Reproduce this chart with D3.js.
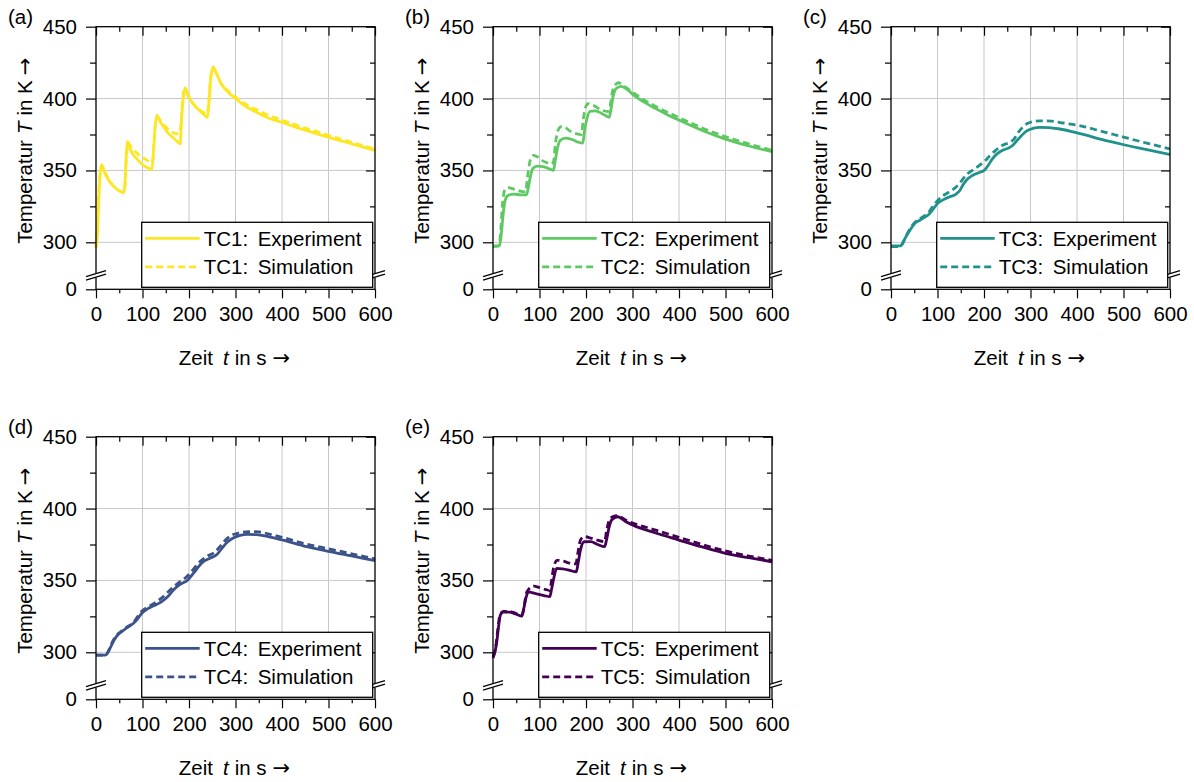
<!DOCTYPE html>
<html>
<head>
<meta charset="utf-8">
<script src="https://cdn.jsdelivr.net/npm/d3@7"></script>
<style>
  body { margin: 0; background: #fff; }
  svg { display: block; font-family: "Liberation Sans", Arial, sans-serif; }
</style>
</head>
<body>
<svg id="chart" width="1194" height="782"></svg>
<script>
// axis ticks
const xTicks = [0, 100, 200, 300, 400, 500, 600];
const xMinor = [50, 150, 250, 350, 450, 550];
const yTicks = [0, 300, 350, 400, 450];
const yMinor = [325, 375, 425];
const yGrid = [300, 350, 400];
const yBreakValue = 267.3;   // axis is broken, bottom of the plot is labelled 0
const yBreakMark = 277;

// TC1 (t in s, T in K)
const tc1Exp = [[0,296],[3,305],[6,330],[9,348],[12,354],[16,351],[22,346],[30,342],[38,339],[45,337],[52,335.5],[60,334.5],[62,340],[65,360],[68,370],[72,366],[80,361],[88,358],[100,354],[110,352],[120,350.5],[123,360],[127,380],[131,388.5],[136,385],[145,380.5],[155,376],[165,373],[175,370],[181,368.5],[184,385],[188,402],[192,407.5],[197,403],[205,398],[215,394],[225,391],[235,388],[240,387],[243,398],[247,415],[252,422],[258,418],[270,410],[285,404],[300,400],[320,395],[345,390.5],[370,386.5],[400,383.5],[430,380],[455,377.5],[500,373],[550,368.5],[600,364]];
const tc1Sim = [[0,297],[3,312],[6,336],[10,350],[13,353],[18,350],[25,345],[35,340],[45,337],[55,335],[61,335],[64,350],[67,366],[70,369],[76,366],[85,363],[95,360],[105,358],[115,356],[121,355.5],[124,365],[128,383],[132,387],[138,385],[148,381],[158,378],[168,376],[178,375.5],[182,380],[186,398],[190,406],[196,403],[205,398.5],[215,394],[228,391],[238,389],[242,395],[246,412],[250,420],[256,419],[268,411],[285,405],[300,401],[325,395.5],[350,391.5],[375,388],[400,385],[450,379.5],[500,374.5],[550,369.5],[600,365]];

// TC2
const tc2Exp = [[0,297.5],[14,297.5],[18,306],[22,320],[26,329],[32,332.5],[45,333.5],[60,333],[72,333],[76,338],[80,345],[86,351.5],[95,353],[110,352.5],[122,351],[130,350],[134,357],[139,366],[145,371],[155,372.5],[170,371.5],[185,369.5],[193,369],[197,378],[202,386],[208,391],[220,391.5],[235,389.5],[250,387],[254,393],[258,401],[265,407],[275,408.5],[290,406],[300,403],[325,397.5],[350,393],[375,388.8],[400,385],[450,377.8],[500,371.8],[550,367],[600,363]];
const tc2Sim = [[0,297],[12,297.5],[16,305],[20,325],[25,336],[32,338],[45,337],[60,335.5],[70,335],[74,345],[80,357],[87,360.5],[95,359.5],[105,357],[115,355.5],[125,354.5],[130,356],[134,368],[140,378],[147,380.5],[155,380],[165,377.5],[180,375.5],[190,375],[194,385],[199,394],[205,396.5],[215,395.5],[230,392.5],[248,391],[252,395],[257,405],[264,410],[270,411],[280,409],[300,404.5],[325,399],[350,394.5],[375,390.5],[400,386.8],[450,379.5],[500,373.5],[550,368.5],[600,364]];

// TC3
const tc3Exp = [[0,297.5],[20,297.5],[25,299],[30,302.5],[37,306.5],[45,310.5],[52,313.5],[60,315],[70,317],[80,319],[87,321.5],[95,325],[102,327.5],[112,329.5],[125,331.5],[140,333.5],[148,336],[155,340],[163,343.5],[175,346.5],[190,348.5],[202,350.5],[210,354],[218,358],[228,361.5],[240,364],[255,366],[262,367.5],[270,370.5],[280,374],[292,377.5],[305,379.2],[320,380],[340,379.8],[360,379],[392,376.8],[420,374.5],[450,371.8],[475,369.8],[503,367.7],[550,364.5],[600,361]];
const tc3Sim = [[0,297],[20,297],[25,299.5],[32,304],[40,309],[50,313.5],[60,316],[70,318],[80,320.5],[90,325],[100,329],[110,332],[125,335],[140,338.5],[150,342],[162,347],[175,350],[190,353.5],[200,356],[212,360],[225,364],[240,367.5],[255,369.5],[265,372],[275,377],[288,381.5],[300,383.5],[320,384.5],[345,384.3],[370,383],[400,381.5],[450,377.5],[500,373.2],[550,369],[600,365]];

// TC4
const tc4Exp = [[0,298],[20,298],[26,300],[32,304],[40,309],[48,312.5],[56,314.5],[66,317],[80,320],[90,323.5],[98,327],[110,330],[125,332.5],[142,335.5],[155,339],[167,343.5],[180,347],[198,350.5],[212,356],[227,362],[245,365.5],[260,368],[270,372],[282,376.5],[295,379.5],[310,381.3],[325,382],[345,381.8],[370,380.5],[400,378.2],[453,373.5],[500,370.2],[550,367],[600,363.8]];
const tc4Sim = [[0,298],[20,298],[26,300.5],[32,305],[40,310],[48,313],[56,315],[66,317.5],[80,320.5],[90,325],[100,329],[112,331.5],[125,334],[140,337.5],[155,342],[168,346],[180,349],[195,352.5],[210,358],[225,363.5],[240,367],[255,369.5],[265,373],[278,378],[292,381.5],[310,383.2],[330,384],[350,383.8],[375,382],[400,380],[450,375.5],[500,372],[550,368.5],[600,365]];

// TC5
const tc5Exp = [[0,296],[4,300],[8,307],[12,318],[16,326],[22,328],[35,328],[50,326.5],[62,325.2],[66,330],[71,338],[76,342],[90,341],[110,339.5],[122,338.7],[126,344],[131,352],[137,358.4],[150,358],[165,357],[179,356],[183,362],[188,371],[196,376.9],[210,377],[225,375],[240,373.5],[244,378],[249,386],[255,392],[268,394.3],[285,391],[300,388.6],[350,383],[400,378.1],[450,373.3],[500,368.9],[550,365.8],[600,363]];
const tc5Sim = [[0,297],[5,302],[10,315],[15,326],[22,328.5],[35,328.5],[50,327],[62,326],[66,330],[71,340],[77,344],[88,346],[100,345],[112,343.8],[122,343],[126,350],[131,360],[138,364],[150,363.5],[165,362],[178,361.5],[183,370],[188,378],[196,380.5],[210,379.5],[225,378],[240,377],[244,384],[250,392],[258,394.5],[268,395],[285,392],[300,390],[350,385],[400,380],[450,375],[500,370.5],[550,367],[600,364]];

const sensorNames = ['TC1', 'TC2', 'TC3', 'TC4', 'TC5'];
const panelTags = ['(a)', '(b)', '(c)', '(d)', '(e)'];
const expSeries = [tc1Exp, tc2Exp, tc3Exp, tc4Exp, tc5Exp];
const simSeries = [tc1Sim, tc2Sim, tc3Sim, tc4Sim, tc5Sim];

// viridis colours
const colors = ['#fde725', '#5ec962', '#21918c', '#3b528b', '#440154'];

// layout
const W = 279, H = 262.6;
const origins = [[96, 26.7], [493, 26.7], [891, 26.7], [96, 436.7], [493, 436.7]];
const fontSize = 20.5;
const lineW = 2.8;
const dash = '7,4';

const svg = d3.select('#chart');

sensorNames.forEach((name, i) => {
    const [ox, oy] = origins[i];
    const g = svg.append('g').attr('transform', `translate(${ox},${oy})`);

    const x = d3.scaleLinear().domain([0, 600]).range([0, W]);
    // piecewise: everything below the break collapses onto the bottom line
    const y = d3.scaleLinear().domain([0, yBreakValue, 450]).range([H, H, 0]);

    // gridlines
    g.append('g').selectAll('line')
        .data(xTicks.slice(1, -1))
        .enter().append('line')
        .attr('x1', d => x(d)).attr('x2', d => x(d))
        .attr('y1', 0).attr('y2', H)
        .attr('stroke', '#c8c8c8').attr('stroke-width', 1);
    g.append('g').selectAll('line')
        .data(yGrid)
        .enter().append('line')
        .attr('x1', 0).attr('x2', W)
        .attr('y1', d => y(d)).attr('y2', d => y(d))
        .attr('stroke', '#c8c8c8').attr('stroke-width', 1);

    // curves
    const line = d3.line()
        .x(d => x(d[0]))
        .y(d => y(d[1]))
        .curve(d3.curveMonotoneX);

    g.append('path')
        .datum(simSeries[i])
        .attr('d', line)
        .attr('fill', 'none')
        .attr('stroke', colors[i])
        .attr('stroke-width', lineW)
        .attr('stroke-dasharray', dash);

    g.append('path')
        .datum(expSeries[i])
        .attr('d', line)
        .attr('fill', 'none')
        .attr('stroke', colors[i])
        .attr('stroke-width', lineW);

    // axes
    const styleAxis = sel => {
        sel.select('.domain').remove();
        sel.selectAll('line').attr('stroke', '#000').attr('stroke-width', 1.2);
        sel.selectAll('text')
            .attr('font-size', fontSize)
            .attr('font-family', '"Liberation Sans", Arial, sans-serif')
            .attr('fill', '#000');
    };

    g.append('g').attr('transform', `translate(0,${H})`)
        .call(d3.axisBottom(x).tickValues(xTicks).tickSize(9).tickPadding(8))
        .call(styleAxis);
    g.append('g').attr('transform', `translate(0,${H})`)
        .call(d3.axisBottom(x).tickValues(xMinor).tickSize(4).tickFormat(''))
        .call(styleAxis);
    g.append('g')
        .call(d3.axisTop(x).tickValues(xTicks).tickSize(-9).tickFormat(''))
        .call(styleAxis);
    g.append('g')
        .call(d3.axisTop(x).tickValues(xMinor).tickSize(-5).tickFormat(''))
        .call(styleAxis);

    g.append('g')
        .call(d3.axisLeft(y).tickValues(yTicks).tickSize(10).tickPadding(9).tickFormat(d3.format('d')))
        .call(styleAxis);
    g.append('g')
        .call(d3.axisLeft(y).tickValues(yMinor).tickSize(6).tickFormat(''))
        .call(styleAxis);
    g.append('g').attr('transform', `translate(${W},0)`)
        .call(d3.axisRight(y).tickValues(yTicks.slice(1)).tickSize(-9).tickFormat(''))
        .call(styleAxis);
    g.append('g').attr('transform', `translate(${W},0)`)
        .call(d3.axisRight(y).tickValues(yMinor).tickSize(-5).tickFormat(''))
        .call(styleAxis);

    // frame
    g.append('rect')
        .attr('width', W).attr('height', H)
        .attr('fill', 'none')
        .attr('stroke', '#000').attr('stroke-width', 1.3);

    // axis break on both sides
    const yb = y(yBreakMark);
    [0, W].forEach(ax => {
        g.append('rect')
            .attr('x', ax - 2).attr('y', yb - 2.2)
            .attr('width', 4).attr('height', 4.4)
            .attr('fill', '#fff');
        [-1.8, 1.8].forEach(off => {
            g.append('line')
                .attr('x1', ax - 10).attr('y1', yb + off + 3)
                .attr('x2', ax + 10).attr('y2', yb + off - 3)
                .attr('stroke', '#000').attr('stroke-width', 1.2);
        });
    });

    // legend
    const lg = g.append('g').attr('transform', 'translate(45.7,195.6)');
    lg.append('rect')
        .attr('width', 231).attr('height', 65)
        .attr('fill', '#fff')
        .attr('stroke', '#000').attr('stroke-width', 1.3);
    const rows = [['Experiment', null], ['Simulation', dash]];
    rows.forEach((r, k) => {
        const cy = 16 + k * 28.5;
        lg.append('line')
            .attr('x1', 3.5).attr('x2', 58)
            .attr('y1', cy).attr('y2', cy)
            .attr('stroke', colors[i]).attr('stroke-width', lineW)
            .attr('stroke-dasharray', r[1]);
        lg.append('text')
            .attr('x', 62).attr('y', cy + 7.3)
            .attr('font-size', fontSize)
            .text(name + ':');
        lg.append('text')
            .attr('x', 116).attr('y', cy + 7.3)
            .attr('font-size', fontSize)
            .text(r[0]);
    });

    // panel tag
    g.append('text')
        .attr('x', -88).attr('y', -3.2)
        .attr('font-size', fontSize)
        .text(panelTags[i]);

    // axis titles
    const yt = g.append('text')
        .attr('transform', `translate(-64,124) rotate(-90)`)
        .attr('text-anchor', 'middle')
        .attr('font-size', fontSize);
    yt.append('tspan').text('Temperatur');
    yt.append('tspan').attr('dx', 6).attr('font-style', 'italic').text('T');
    yt.append('tspan').attr('dx', 6).text('in K');
    yt.append('tspan').attr('dx', 5)
        .attr('font-family', '"DejaVu Sans", sans-serif')
        .attr('font-size', 21).text('→');

    const xt = g.append('text')
        .attr('x', W / 2 - 1).attr('y', 338)
        .attr('text-anchor', 'middle')
        .attr('font-size', fontSize);
    xt.append('tspan').text('Zeit');
    xt.append('tspan').attr('dx', 10).attr('font-style', 'italic').text('t');
    xt.append('tspan').attr('dx', 6).text('in s');
    xt.append('tspan').attr('dx', 6)
        .attr('font-family', '"DejaVu Sans", sans-serif')
        .attr('font-size', 21).text('→');
});
</script>
</body>
</html>
